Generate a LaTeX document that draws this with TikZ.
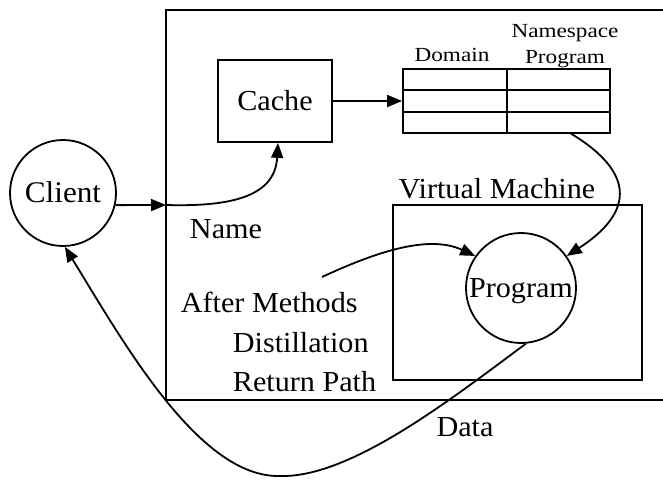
\documentclass[tikz,border=0pt]{standalone}
\usepackage{fontspec}
\setmainfont{Liberation Serif}[FakeStretch=1.04]
\newfontfamily\narrowlbl{Liberation Serif}[FakeStretch=1.16]
\usetikzlibrary{arrows.meta}

\begin{document}
\begin{tikzpicture}[x=1pt,y=-1pt,
  line width=1.8pt,
  big/.style={font=\fontsize{29}{31}\selectfont, inner sep=0pt, text height=19pt, text depth=0pt},
  small/.style={font=\narrowlbl\fontsize{20}{22}\selectfont, inner sep=0pt, text height=13pt, text depth=0pt},
  arr/.style={-{Triangle[length=15pt,width=12pt]}, line width=1.8pt},
]
\useasboundingbox[fill=white] (0,0) rectangle (663,479);

% outer system frame (open on the right)
\draw (663,10) -- (166,10) -- (166,400) -- (663,400);

% client
\node[circle, draw, minimum size=106pt, big, font=\fontsize{30}{32}\selectfont] (client) at (63,193) {Client};

% cache
\node[draw, minimum width=114pt, minimum height=82pt, big] (cache) at (275,101) {Cache};

% domain / namespace table
\node[draw, minimum width=207pt, minimum height=64pt, inner sep=0pt] (tbl) at (506.5,101) {};
\draw (403,90) -- (610,90);
\draw (403,112) -- (610,112);
\draw (507,69) -- (507,133);
\node[small] (domain) at (452,55) {Domain};
\node[small] (nsp) at (565,31) {Namespace};
\node[small] (nsprog) at (565,57) {Program};

% virtual machine
\node[draw, minimum width=249pt, minimum height=175pt, inner sep=0pt] (vm) at (517.5,292.5) {};
\node[big] (vmlbl) at (497,189) {Virtual Machine};
\node[circle, draw, minimum size=110pt, big] (prog) at (521,288) {Program};

% labels
\node[big] (namelbl) at (226,229) {Name};
\node[big, anchor=west] (after) at (180,303) {After Methods};
\node[big, anchor=west] (distil) at (232,343) {Distillation};
\node[big, anchor=west] (retpath) at (232,382) {Return Path};
\node[big] (datalbl) at (465,427) {Data};

% connectors
\coordinate (entry) at (166,205);
\coordinate (tblout) at (570,133);
\coordinate (amstart) at (322,277);

\draw[arr] (client.-13) -- (entry);
\draw[arr] (entry) .. controls (235,207) and (275,195) .. ([xshift=3pt]cache.south);
\draw[arr] (cache.east) -- (tbl.west);
\draw[arr] (tblout) .. controls (640,175) and (630,215) .. (prog.35);
\draw[arr] (amstart) .. controls (380,250) and (430,235) .. (prog.145);
\draw[arr] (prog.-85) .. controls (450,400) and (350,478) .. (280,476)
           .. controls (200,478) and (125,345) .. (client.-88);
\end{tikzpicture}
\end{document}
